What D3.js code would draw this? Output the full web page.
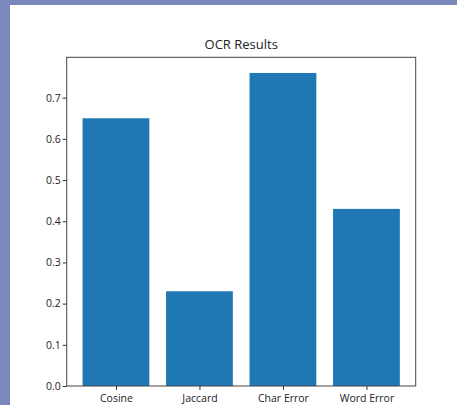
<!DOCTYPE html>
<html>
<head>
<meta charset="utf-8">
<script src="https://cdn.jsdelivr.net/npm/d3@7"></script>
<style>
  html, body { margin: 0; padding: 0; background: #ffffff; }
  svg { display: block; }
</style>
</head>
<body>
<svg id="chart" width="457" height="405"></svg>
<script>
// OCR evaluation metrics
const categories = ["Cosine", "Jaccard", "Char Error", "Word Error"];
const values = [0.65, 0.23, 0.76, 0.43];
const yTicks = [0.0, 0.1, 0.2, 0.3, 0.4, 0.5, 0.6, 0.7];
const title = "OCR Results";

const W = 457, H = 405;
const svg = d3.select("#chart");

// page frame bands
svg.append("rect").attr("x", 0).attr("y", 0).attr("width", W).attr("height", 5).attr("fill", "#7b88bb");
svg.append("rect").attr("x", 0).attr("y", 0).attr("width", 10).attr("height", H).attr("fill", "#7b88bb");

const plot = { left: 66.7, right: 415.7, top: 57.3, bottom: 386 };

// bar centres at integer positions, width 0.8, 5% side margins
const xDomain = [-0.4 - 0.19, categories.length - 1 + 0.4 + 0.19];
const x = d3.scaleLinear().domain(xDomain).range([plot.left, plot.right]);
const yMax = d3.max(values) * 1.05;
const y = d3.scaleLinear().domain([0, yMax]).range([plot.bottom, plot.top]);

const font = "'Open Sans', 'DejaVu Sans', sans-serif";

// bars
svg.append("g").selectAll("rect").data(values).join("rect")
  .attr("x", (d, i) => x(i - 0.4))
  .attr("width", (d, i) => x(i + 0.4) - x(i - 0.4))
  .attr("y", d => y(d))
  .attr("height", d => y(0) - y(d))
  .attr("fill", "#1f77b4");

// axes
const yAxis = d3.axisLeft(y).tickValues(yTicks).tickFormat(d3.format(".1f")).tickSize(4).tickPadding(2);
const gy = svg.append("g").attr("transform", `translate(${plot.left},0)`).call(yAxis);
gy.select(".domain").remove();
gy.selectAll("line").attr("stroke", "#333");
gy.selectAll("text").attr("font-family", font).attr("font-size", "10.5px").attr("fill", "#222");

const xAxis = d3.axisBottom(x).tickValues(d3.range(categories.length)).tickFormat(i => categories[i]).tickSize(4).tickPadding(5);
const gx = svg.append("g").attr("transform", `translate(0,${plot.bottom})`).call(xAxis);
gx.select(".domain").remove();
gx.selectAll("line").attr("stroke", "#333");
gx.selectAll("text").attr("font-family", font).attr("font-size", "10.5px").attr("fill", "#222");

// frame
svg.append("rect")
  .attr("x", plot.left).attr("y", plot.top)
  .attr("width", plot.right - plot.left).attr("height", plot.bottom - plot.top)
  .attr("fill", "none").attr("stroke", "#444").attr("stroke-width", 1);

// title
svg.append("text")
  .attr("x", (plot.left + plot.right) / 2).attr("y", plot.top - 8.5)
  .attr("text-anchor", "middle")
  .attr("font-family", font).attr("font-size", "13px").attr("fill", "#222")
  .text(title);
</script>
</body>
</html>
